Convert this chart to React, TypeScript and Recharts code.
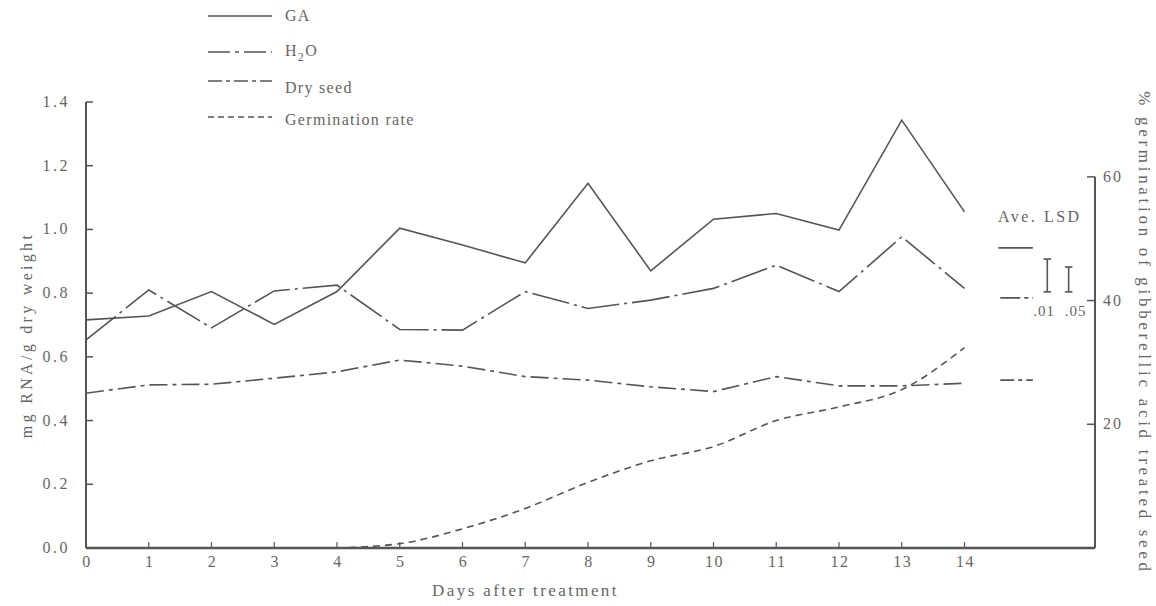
import { LineChart, Line, XAxis, YAxis, Legend, ReferenceLine, ReferenceDot } from 'recharts';

// days after treatment
const days = [0, 1, 2, 3, 4, 5, 6, 7, 8, 9, 10, 11, 12, 13, 14];
// mg RNA / g dry weight
const gaRna = [0.716, 0.728, 0.805, 0.702, 0.805, 1.004, 0.951, 0.895, 1.145, 0.87, 1.032, 1.05, 0.998, 1.343, 1.055];
const h2oRna = [0.653, 0.81, 0.691, 0.807, 0.825, 0.686, 0.684, 0.805, 0.752, 0.778, 0.815, 0.888, 0.805, 0.977, 0.815];
const drySeedRna = [0.486, 0.512, 0.514, 0.533, 0.553, 0.59, 0.571, 0.538, 0.527, 0.506, 0.491, 0.538, 0.509, 0.509, 0.517];
// % germination of GA treated seed
const germinationPct = [null, null, null, null, 0, 0.7, 3.1, 6.4, 10.6, 14.1, 16.4, 20.6, 22.8, 25.6, 32.4];

const leftTicks = [0, 0.2, 0.4, 0.6, 0.8, 1.0, 1.2, 1.4];
const rightTicks = [20, 40, 60];

// Ave. LSD markers
const lsdSampleLevels = { ga: 0.942, h2o: 0.785, dry: 0.527 };
const lsdBars = [
  { label: '.01', x: 15.32, labelX: 15.27, low: 0.804, high: 0.907 },
  { label: '.05', x: 15.66, labelX: 15.77, low: 0.804, high: 0.882 },
];

const X_MAX = 16.08;
const INK = '#555';
const TEXT = '#666';
const FONT = 'Liberation Serif';

const data = days.map((d, i) => ({
  day: d,
  ga: gaRna[i],
  h2o: h2oRna[i],
  dry: drySeedRna[i],
  germ: germinationPct[i],
}));

const DASH_H2O = '38 5 3 5';
const DASH_DRY = '18 5 4 5';
const DASH_GERM = '7 5';

const LeftTick = ({ x, y, payload }: any) => (
  <g>
    <line x1={x} x2={x + 7} y1={y} y2={y} stroke={INK} strokeWidth={1.5} />
    <text x={x - 16} y={y + 5} textAnchor="end" fill={TEXT} fontSize={16} fontFamily={FONT} letterSpacing={2.5}>
      {payload.value.toFixed(1)}
    </text>
  </g>
);

const RightTick = ({ x, y, payload }: any) => (
  <g>
    <line x1={x - 8} x2={x} y1={y} y2={y} stroke={INK} strokeWidth={1.5} />
    <text x={x + 8} y={y + 5} textAnchor="start" fill={TEXT} fontSize={16} fontFamily={FONT} letterSpacing={2}>
      {payload.value}
    </text>
  </g>
);

const BottomTick = ({ x, y, payload }: any) => (
  <g>
    <line x1={x} x2={x} y1={y} y2={y - 6} stroke={INK} strokeWidth={1.2} />
    <text x={x + 1} y={y + 19} textAnchor="middle" fill={TEXT} fontSize={16} fontFamily={FONT} letterSpacing={1.5}>
      {payload.value}
    </text>
  </g>
);

const legendRows = [
  { key: 'GA', dash: undefined, lineY: 16, textY: 21 },
  { key: 'H2O', dash: '22 5 4 5', lineY: 52, textY: 56 },
  { key: 'Dry seed', dash: '14 4 4 4', lineY: 81, textY: 93 },
  { key: 'Germination rate', dash: '6 4', lineY: 117, textY: 125 },
];

const renderLegend = () => (
  <svg width={260} height={132}>
    {legendRows.map((r) => (
      <g key={r.key}>
        <line x1={8} x2={72} y1={r.lineY} y2={r.lineY} stroke={INK} strokeWidth={1.5} strokeDasharray={r.dash} />
        <text x={85} y={r.textY} fill={TEXT} fontSize={16} fontFamily={FONT} letterSpacing={1.3}>
          {r.key === 'H2O' ? (
            <>
              H<tspan dy={5} fontSize={12}>2</tspan>
              <tspan dy={-5}>O</tspan>
            </>
          ) : (
            r.key
          )}
        </text>
      </g>
    ))}
  </svg>
);

export default function App() {
  return (
    <div style={{ position: 'absolute', left: 0, top: 0, background: '#fff' }}>
      <LineChart width={1156} height={606} data={data} margin={{ top: 102, right: 0, bottom: 0, left: 0 }}>
        <XAxis
          dataKey="day"
          type="number"
          domain={[0, X_MAX]}
          ticks={days}
          interval={0}
          height={58}
          tickSize={0}
          tickMargin={0}
          tickLine={false}
          tick={<BottomTick />}
          axisLine={{ stroke: INK, strokeWidth: 2.5 }}
          label={{
            value: 'Days after treatment',
            position: 'center',
            dx: -65,
            dy: 13,
            fill: TEXT,
            fontSize: 17,
            fontFamily: FONT,
            letterSpacing: 2.4,
          }}
        />
        <YAxis
          yAxisId="left"
          orientation="left"
          domain={[0, 1.4]}
          ticks={leftTicks}
          width={86}
          tickSize={0}
          tickMargin={0}
          tickLine={false}
          tick={<LeftTick />}
          axisLine={{ stroke: INK, strokeWidth: 2 }}
          label={{
            value: 'mg RNA/g dry weight',
            angle: -90,
            position: 'center',
            dx: -17,
            dy: 10,
            fill: TEXT,
            fontSize: 16,
            fontFamily: FONT,
            letterSpacing: 3.3,
          }}
        />
        <YAxis
          yAxisId="right"
          orientation="right"
          domain={[0, 72.1]}
          ticks={rightTicks}
          width={61}
          tickSize={0}
          tickMargin={0}
          tickLine={false}
          tick={<RightTick />}
          axisLine={false}
          label={{
            value: '% germination of gibberellic acid treated seed',
            angle: 90,
            position: 'center',
            dx: 20,
            dy: 8,
            fill: TEXT,
            fontSize: 17,
            fontFamily: FONT,
            letterSpacing: 3.7,
          }}
        />
        <Legend
          layout="horizontal"
          verticalAlign="middle"
          align="center"
          content={renderLegend}
          wrapperStyle={{ left: 200, top: 0, width: 260, height: 132 }}
        />

        {/* right axis line stops at 60 % */}
        <ReferenceLine
          yAxisId="right"
          segment={[{ x: X_MAX, y: 0 }, { x: X_MAX, y: 60 }]}
          stroke={INK}
          strokeWidth={2}
        />

        <Line yAxisId="left" type="linear" dataKey="ga" name="GA" stroke={INK} strokeWidth={1.6} dot={false} isAnimationActive={false} />
        <Line yAxisId="left" type="linear" dataKey="h2o" name="H2O" stroke={INK} strokeWidth={1.6} strokeDasharray={DASH_H2O} dot={false} isAnimationActive={false} />
        <Line yAxisId="left" type="linear" dataKey="dry" name="Dry seed" stroke={INK} strokeWidth={1.6} strokeDasharray={DASH_DRY} dot={false} isAnimationActive={false} />
        <Line yAxisId="right" type="monotone" dataKey="germ" name="Germination rate" stroke={INK} strokeWidth={1.6} strokeDasharray={DASH_GERM} dot={false} isAnimationActive={false} />

        {/* Ave. LSD legend block */}
        <ReferenceDot
          yAxisId="left"
          x={15.2}
          y={1.04}
          r={0}
          fill="none"
          stroke="none"
          label={{ value: 'Ave. LSD', position: 'center', fill: TEXT, fontSize: 16, fontFamily: FONT, letterSpacing: 2.5 }}
        />
        <ReferenceLine yAxisId="left" segment={[{ x: 14.54, y: lsdSampleLevels.ga }, { x: 15.09, y: lsdSampleLevels.ga }]} stroke={INK} strokeWidth={1.6} />
        <ReferenceLine yAxisId="left" segment={[{ x: 14.57, y: lsdSampleLevels.h2o }, { x: 15.09, y: lsdSampleLevels.h2o }]} stroke={INK} strokeWidth={1.6} strokeDasharray="20 4 4 4" />
        <ReferenceLine yAxisId="left" segment={[{ x: 14.57, y: lsdSampleLevels.dry }, { x: 15.09, y: lsdSampleLevels.dry }]} stroke={INK} strokeWidth={1.6} strokeDasharray="14 4 4 4" />
        {lsdBars.map((b) => [
          <ReferenceLine key={b.label + 'v'} yAxisId="left" segment={[{ x: b.x, y: b.low }, { x: b.x, y: b.high }]} stroke={INK} strokeWidth={1.6} />,
          <ReferenceLine key={b.label + 't'} yAxisId="left" segment={[{ x: b.x - 0.06, y: b.high }, { x: b.x + 0.06, y: b.high }]} stroke={INK} strokeWidth={1.6} />,
          <ReferenceLine key={b.label + 'b'} yAxisId="left" segment={[{ x: b.x - 0.06, y: b.low }, { x: b.x + 0.06, y: b.low }]} stroke={INK} strokeWidth={1.6} />,
          <ReferenceDot
            key={b.label + 'l'}
            yAxisId="left"
            x={b.labelX}
            y={0.745}
            r={0}
            fill="none"
            stroke="none"
            label={{ value: b.label, position: 'center', fill: TEXT, fontSize: 15, fontFamily: FONT, letterSpacing: 1 }}
          />,
        ])}
      </LineChart>
    </div>
  );
}
